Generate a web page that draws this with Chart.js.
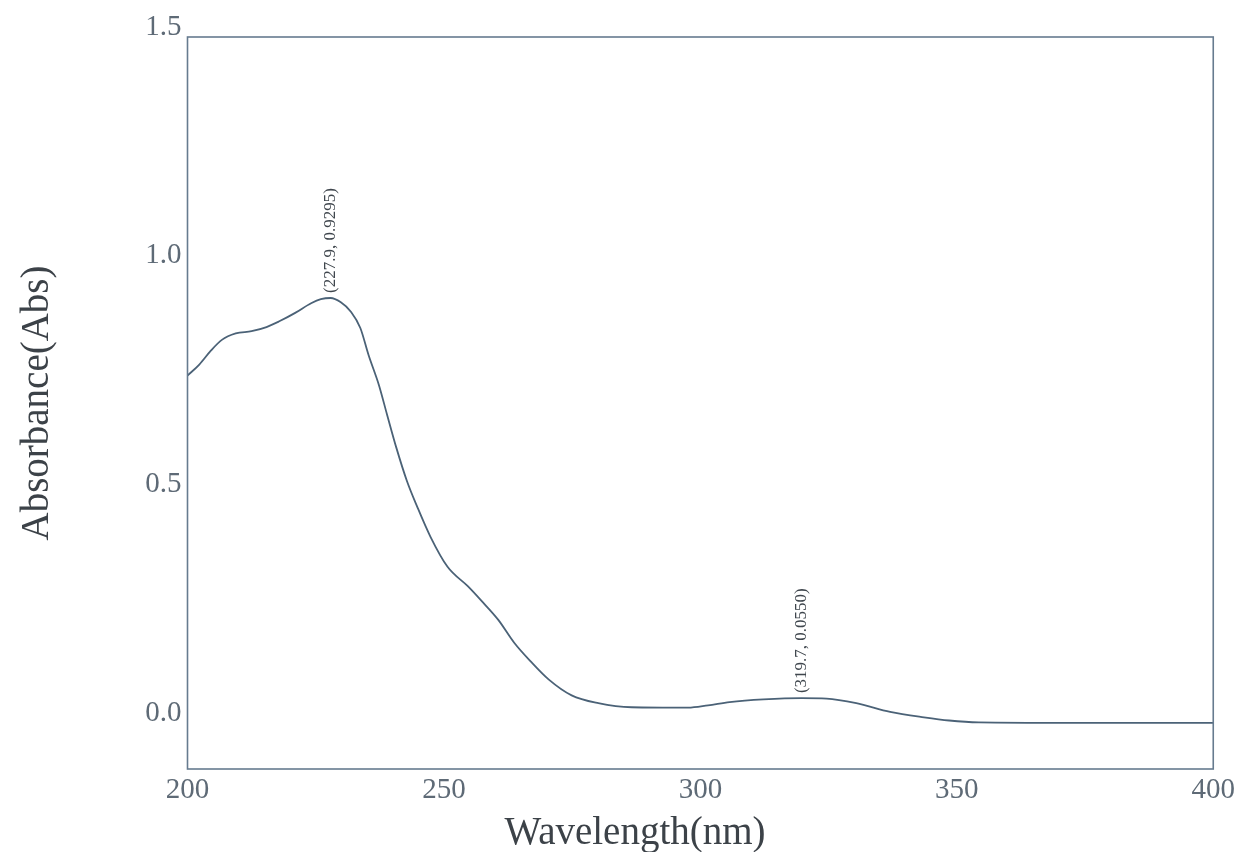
<!DOCTYPE html>
<html>
<head>
<meta charset="utf-8">
<script src="https://cdn.jsdelivr.net/npm/chart.js@4/dist/chart.umd.min.js"></script>
<style>
  html, body { margin: 0; padding: 0; background: #ffffff; }
  #wrap { position: relative; width: 1239px; height: 852px; }
  canvas { display: block; }
</style>
</head>
<body>
<div id="wrap"><canvas id="c" width="1239" height="852"></canvas></div>
<script>
// ---- data ----
const wavelengths = [200.0, 202.3, 204.6, 206.7, 209.4, 212.5, 215.4, 217.8, 221.0, 224.1,
                     226.0, 227.9, 229.9, 231.9, 233.7, 235.3, 237.3, 238.9, 240.7, 242.8,
                     244.8, 247.4, 250.7, 254.7, 257.2, 260.6, 263.7, 267.1, 270.4, 274.9,
                     280.1, 286.6, 297.6, 301.5, 305.7, 312.3, 319.7, 324.6, 330.4, 337.0,
                     343.6, 348.5, 354.3, 371.6, 400.0];
const absorbance  = [0.760, 0.784, 0.815, 0.838, 0.852, 0.857, 0.866, 0.878, 0.897, 0.918,
                     0.927, 0.9295, 0.920, 0.899, 0.864, 0.805, 0.740, 0.675, 0.603, 0.529,
                     0.473, 0.407, 0.342, 0.299, 0.269, 0.226, 0.176, 0.133, 0.096, 0.061,
                     0.044, 0.035, 0.034, 0.039, 0.046, 0.052, 0.055, 0.054, 0.044, 0.025,
                     0.013, 0.006, 0.002, 0.001, 0.001];
const xTickValues = [200, 250, 300, 350, 400];
const yTickValues = [0.0, 0.5, 1.0, 1.5];
const peakWavelengths = [227.9, 319.7];
const peakAbsorbance  = [0.9295, 0.0550];
const peakLabels = ['(227.9, 0.9295)', '(319.7, 0.0550)'];
const xTitle = 'Wavelength(nm)';
const yTitle = 'Absorbance(Abs)';

const serif = '"Liberation Serif", "DejaVu Serif", serif';
const frameColor = '#667b8f';
const lineColor = '#4b6277';
const tickColor = '#5e6a76';
const titleColor = '#3c4248';

const points = wavelengths.map((w, i) => ({ x: w, y: absorbance[i] }));

const framePlugin = {
  id: 'frameAndText',
  afterDraw(chart) {
    const { ctx, chartArea: a, scales } = chart;
    ctx.save();
    // frame
    ctx.strokeStyle = frameColor;
    ctx.lineWidth = 1.6;
    ctx.strokeRect(a.left, a.top, a.right - a.left, a.bottom - a.top);
    // peak annotations
    ctx.fillStyle = '#3f464d';
    ctx.font = '17px ' + serif;
    ctx.textAlign = 'left';
    ctx.textBaseline = 'middle';
    peakWavelengths.forEach((w, i) => {
      const px = scales.x.getPixelForValue(w);
      const py = scales.y.getPixelForValue(peakAbsorbance[i]);
      ctx.save();
      ctx.translate(px, py - 5);
      ctx.rotate(-Math.PI / 2);
      ctx.fillText(peakLabels[i], 0, 0);
      ctx.restore();
    });
    // axis titles
    ctx.fillStyle = titleColor;
    ctx.font = '39px ' + serif;
    ctx.textAlign = 'center';
    ctx.textBaseline = 'alphabetic';
    ctx.fillText(xTitle, 635, 844);
    ctx.save();
    ctx.translate(48, 403);
    ctx.rotate(-Math.PI / 2);
    ctx.fillText(yTitle, 0, 0);
    ctx.restore();
    ctx.restore();
  }
};

new Chart(document.getElementById('c'), {
  type: 'line',
  data: {
    datasets: [{
      data: points,
      borderColor: lineColor,
      borderWidth: 1.8,
      pointRadius: 0,
      fill: false,
      cubicInterpolationMode: 'monotone'
    }]
  },
  options: {
    responsive: false,
    animation: false,
    layout: { padding: { top: 37, right: 22, left: 0, bottom: 0 } },
    plugins: { legend: { display: false }, tooltip: { enabled: false } },
    scales: {
      x: {
        type: 'linear',
        min: 200, max: 400,
        grid: { display: false, drawTicks: false },
        border: { display: false },
        afterBuildTicks: s => { s.ticks = xTickValues.map(v => ({ value: v })); },
        afterFit: s => { s.height = 83; },
        ticks: {
          color: tickColor,
          font: { family: serif, size: 29 },
          padding: 4,
          maxRotation: 0,
          callback: v => String(v)
        }
      },
      y: {
        type: 'linear',
        min: -0.1, max: 1.5,
        grid: { display: false, drawTicks: false },
        border: { display: false },
        afterBuildTicks: s => { s.ticks = yTickValues.map(v => ({ value: v })); },
        afterFit: s => { s.width = 187.5; },
        ticks: {
          color: tickColor,
          font: { family: serif, size: 29 },
          padding: 6,
          labelOffset: -10,
          callback: v => Number(v).toFixed(1)
        }
      }
    }
  },
  plugins: [framePlugin]
});
</script>
</body>
</html>
